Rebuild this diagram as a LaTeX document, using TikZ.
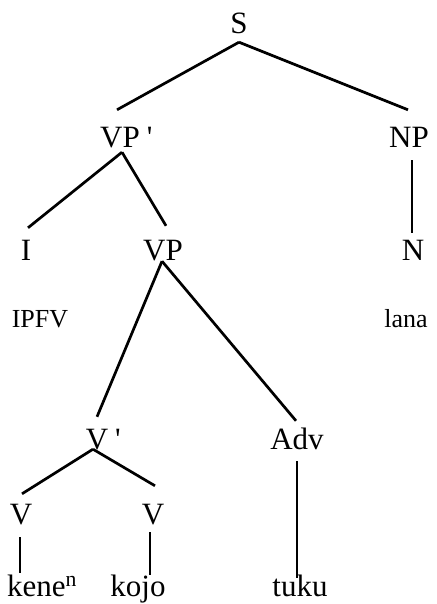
\documentclass[tikz,border=0pt]{standalone}
\usepackage{fontspec}
\setmainfont{Liberation Serif}
\begin{document}
\begin{tikzpicture}[x=1pt,y=-1pt,
  lab/.style={font=\fontsize{31}{31}\selectfont, inner sep=0pt, anchor=base, text height=20pt, text depth=0pt},
  small/.style={font=\fontsize{26}{26}\selectfont, inner sep=0pt, anchor=base, text height=17pt, text depth=0pt},
  edge/.style={line width=2.7pt, line cap=butt}]
\useasboundingbox (0,0) rectangle (436,604);
% nodes
\node[lab] (S)   at (239,34)  {S};
\node[lab] (VPp) at (120,147) {VP\rlap{\hspace{7pt}\textquotesingle}};
\node[lab] (NP)  at (409,147) {NP};
\node[lab] (I)   at (26,260)  {I};
\node[lab] (VP)  at (163,260) {VP};
\node[lab] (N)   at (413,260) {N};
\node[small] (IPFV) at (40,327) {IPFV};
\node[small] (lana) at (406,327) {lana};
\node[lab] (Vp)  at (97,449)  {V\rlap{\hspace{7pt}\textquotesingle}};
\node[lab] (Adv) at (297,449) {Adv};
\node[lab] (V1)  at (21,524)  {V};
\node[lab] (V2)  at (153,524) {V};
\node[lab] (kenen) at (42,596) {kene\textsuperscript{n}};
\node[lab] (kojo)  at (138,596) {kojo};
\node[lab] (tuku)  at (300,596) {tuku};
% edges
\draw[edge] ([yshift=-8pt]S.south) -- ([xshift=-3pt,yshift=17pt]VPp.north);
\draw[edge] ([yshift=-8pt]S.south) -- ([xshift=-1pt,yshift=17pt]NP.north);
\draw[edge] ([xshift=2pt,yshift=-5pt]VPp.south) -- ([xshift=2pt,yshift=12pt]I.north);
\draw[edge] ([xshift=2pt,yshift=-5pt]VPp.south) -- ([xshift=3pt,yshift=14pt]VP.north);
\draw[edge] ([xshift=3pt,yshift=-13pt]NP.south) -- ([xshift=-1pt,yshift=7pt]N.north);
\draw[edge] ([xshift=-1pt,yshift=-1pt]VP.south) -- ([yshift=12pt]Vp.north);
\draw[edge] ([xshift=-1pt,yshift=-1pt]VP.south) -- ([xshift=-1pt,yshift=8pt]Adv.north);
\draw[edge] ([xshift=-4pt]Vp.south) -- ([xshift=1pt,yshift=10pt]V1.north);
\draw[edge] ([xshift=-4pt]Vp.south) -- ([xshift=2pt,yshift=18pt]V2.north);
\draw[edge] ([xshift=-1pt,yshift=-13pt]V1.south) -- ([xshift=-22pt,yshift=3pt]kenen.north);
\draw[edge] ([xshift=-3pt,yshift=-8pt]V2.south) -- ([xshift=12pt,yshift=1pt]kojo.north);
\draw[edge] ([yshift=-12pt]Adv.south) -- ([xshift=-3pt,yshift=-2pt]tuku.north);
\end{tikzpicture}
\end{document}
